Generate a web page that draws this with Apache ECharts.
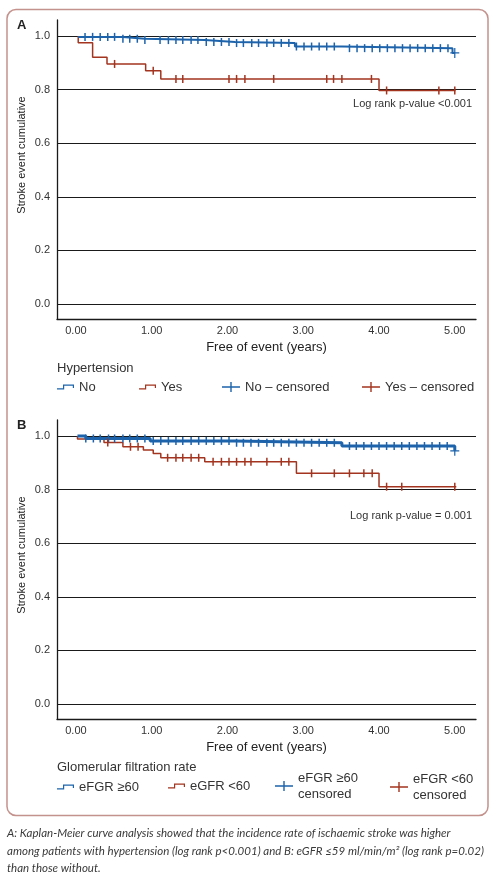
<!DOCTYPE html>
<html>
<head>
<meta charset="utf-8">
<script src="https://cdn.jsdelivr.net/npm/echarts@6/dist/echarts.min.js"></script>
<style>
html,body{margin:0;padding:0;background:#fff;}
#chart{width:497px;height:880px;}
</style>
</head>
<body>
<div id="chart"></div>
<script>
// ---- tick values ----
const xTicks = [0, 1, 2, 3, 4, 5];
const yTicks = [0, 0.2, 0.4, 0.6, 0.8, 1.0];

// ---- Panel A: Hypertension (time in years, cumulative survival) ----
const hypNoSteps = [[0.03,0.997],[0.62,0.990],[0.91,0.985],[1.70,0.978],[2.10,0.974],[2.89,0.961],[3.51,0.955],[4.97,0.937],[5.00,0.937]];
const hypYesSteps = [[0.03,1.0],[0.03,0.975],[0.22,0.921],[0.41,0.896],[0.92,0.871],[1.12,0.840],[4.00,0.797],[5.01,0.797]];
const hypNoCensored = [
  [0.12,0.997],[0.22,0.997],[0.32,0.997],[0.42,0.997],[0.51,0.997],
  [0.62,0.990],[0.71,0.990],[0.81,0.990],
  [0.91,0.985],[1.11,0.985],[1.22,0.985],[1.32,0.985],[1.41,0.985],[1.52,0.985],[1.61,0.985],
  [1.72,0.978],[1.82,0.978],[1.92,0.978],[2.02,0.978],
  [2.12,0.974],[2.21,0.974],[2.32,0.974],[2.41,0.974],[2.52,0.974],[2.61,0.974],[2.71,0.974],[2.81,0.974],
  [2.91,0.961],[3.01,0.961],[3.11,0.961],[3.21,0.961],[3.31,0.961],[3.41,0.961],
  [3.61,0.955],[3.71,0.955],[3.81,0.955],[3.91,0.955],[4.01,0.955],[4.11,0.955],[4.21,0.955],[4.31,0.955],
  [4.41,0.955],[4.51,0.955],[4.61,0.955],[4.71,0.955],[4.81,0.955],[4.91,0.955]
];
const hypNoLast = [5.00, 0.937];
const hypYesCensored = [
  [0.51,0.896],[1.02,0.871],
  [1.32,0.840],[1.41,0.840],[2.02,0.840],[2.12,0.840],[2.23,0.840],[2.61,0.840],[3.31,0.840],[3.40,0.840],[3.51,0.840],[3.90,0.840],
  [4.10,0.797],[4.79,0.797],[5.00,0.797]
];

// ---- Panel B: Glomerular filtration rate ----
const gfrHighSteps = [[0.02,1.0],[0.13,0.991],[0.98,0.982],[2.10,0.975],[3.51,0.963],[5.00,0.945]];
const gfrLowSteps = [[0.02,1.0],[0.02,0.989],[0.37,0.976],[0.62,0.960],[0.89,0.948],[1.02,0.935],[1.12,0.919],[1.70,0.904],[2.91,0.861],[4.00,0.811],[5.02,0.811]];
const gfrHighCensored = [
  [0.13,0.991],[0.23,0.991],[0.32,0.991],[0.43,0.991],[0.51,0.991],[0.62,0.991],[0.71,0.991],[0.81,0.991],[0.91,0.991],
  [1.02,0.982],[1.12,0.982],[1.22,0.982],[1.32,0.982],[1.41,0.982],[1.52,0.982],[1.62,0.982],[1.72,0.982],[1.82,0.982],[1.92,0.982],[2.02,0.982],
  [2.12,0.975],[2.21,0.975],[2.31,0.975],[2.41,0.975],[2.52,0.975],[2.61,0.975],[2.71,0.975],[2.81,0.975],[2.91,0.975],[3.01,0.975],[3.11,0.975],[3.21,0.975],[3.31,0.975],[3.41,0.975],
  [3.61,0.963],[3.70,0.963],[3.80,0.963],[3.90,0.963],[4.00,0.963],[4.10,0.963],[4.20,0.963],[4.30,0.963],[4.40,0.963],[4.50,0.963],[4.60,0.963],[4.70,0.963],[4.80,0.963],[4.90,0.963]
];
const gfrHighLast = [5.00, 0.945];
const gfrLowCensored = [
  [0.42,0.976],[0.72,0.960],[0.82,0.960],
  [1.21,0.919],[1.32,0.919],[1.41,0.919],[1.52,0.919],[1.62,0.919],
  [1.81,0.904],[1.92,0.904],[2.02,0.904],[2.12,0.904],[2.23,0.904],[2.31,0.904],[2.52,0.904],[2.71,0.904],[2.81,0.904],
  [3.11,0.861],[3.41,0.861],[3.61,0.861],[3.80,0.861],[3.91,0.861],
  [4.10,0.811],[4.30,0.811],[5.00,0.811]
];

const BLUE = '#1d63ab';
const RED = '#a3341f';
const FONT = 'Liberation Sans';
const stepIcon = 'path://M0,3.8H6V0H17V3.6H15.8V1.2H7.2V5H0Z';
const plusIcon = 'path://M0,4.3H18V5.7H0Z M8.3,0H9.7V10H8.3Z';
const plusSymbol = 'path://M0,4.4H9V5.6H0Z M3.9,0H5.1V10H3.9Z';

const chart = echarts.init(document.getElementById('chart'), null, {renderer:'canvas'});

function xAxisFor(i){
  return {
    type:'value', gridIndex:i, min:-0.25, max:5.28,
    axisLine:{show:true, onZero:false, lineStyle:{color:'#1a1a1a', width:1.3}},
    axisTick:{show:false, customValues:xTicks},
    axisLabel:{customValues:xTicks, formatter:v=>v.toFixed(2), color:'#333', fontSize:11, margin:6, fontFamily:FONT},
    splitLine:{show:false},
    name:'Free of event (years)', nameLocation:'middle', nameGap:22,
    nameTextStyle:{color:'#222', fontSize:13, fontFamily:FONT}
  };
}
function yAxisFor(i){
  return {
    type:'value', gridIndex:i, min:-0.056, max:1.06,
    axisLine:{show:true, onZero:false, lineStyle:{color:'#1a1a1a', width:1.3}},
    axisTick:{show:false, customValues:yTicks},
    axisLabel:{customValues:yTicks, formatter:v=>v.toFixed(1), color:'#333', fontSize:11, margin:7, fontFamily:FONT},
    splitLine:{show:true, lineStyle:{color:'#1a1a1a', width:1.2}}
  };
}
function stepSeries(name, data, color, width, i){
  return {type:'line', name, data, step:'end', xAxisIndex:i, yAxisIndex:i, showSymbol:false,
    color, lineStyle:{color, width}, z:3};
}
function censorSeries(name, data, last, color, i){
  const d = data.slice();
  if (last) d.push({value:last, symbol:plusSymbol, symbolSize:[9,10]});
  return {type:'scatter', name, data:d, xAxisIndex:i, yAxisIndex:i, symbol:'rect', symbolSize:[1.5,8],
    color, itemStyle:{color, opacity:1}, z:4};
}
function legendItem(name, icon, left, top, extra){
  const ts = Object.assign({color:'#333', fontSize:13, fontFamily:FONT, lineHeight:16}, extra||{});
  return {data:[{name, icon, itemStyle:{opacity:1}}], left, top, padding:0, itemWidth: icon===stepIcon?17:18, itemHeight: icon===stepIcon?5:10,
    itemGap:0, textStyle:ts, formatter:n=>n.replace(' censored','\ncensored'), selectedMode:false};
}

const option = {
  animation:false,
  backgroundColor:'#fff',
  textStyle:{fontFamily:FONT},
  grid:[
    {left:57, top:20, width:419, height:299},
    {left:57, top:420, width:419, height:299}
  ],
  xAxis:[xAxisFor(0), xAxisFor(1)],
  yAxis:[yAxisFor(0), yAxisFor(1)],
  legend:[
    legendItem('No', stepIcon, 57, 379),
    legendItem('Yes', stepIcon, 139, 379),
    {...legendItem('No – censored', plusIcon, 222, 379), formatter:n=>n},
    {...legendItem('Yes – censored', plusIcon, 362, 379), formatter:n=>n},
    legendItem('eFGR ≥60', stepIcon, 57, 779),
    legendItem('eGFR <60', stepIcon, 168, 778),
    legendItem('eFGR ≥60 censored', plusIcon, 275, 762, {padding:[16,0,0,0]}),
    legendItem('eFGR <60 censored', plusIcon, 390, 767, {padding:[8,0,0,0]})
  ],
  series:[
    stepSeries('Yes', hypYesSteps, RED, 1.5, 0),
    stepSeries('No', hypNoSteps, BLUE, 2, 0),
    censorSeries('No – censored', hypNoCensored, hypNoLast, BLUE, 0),
    censorSeries('Yes – censored', hypYesCensored, null, RED, 0),
    stepSeries('eGFR <60', gfrLowSteps, RED, 1.5, 1),
    stepSeries('eFGR ≥60', gfrHighSteps, BLUE, 3, 1),
    censorSeries('eFGR ≥60 censored', gfrHighCensored, gfrHighLast, BLUE, 1),
    censorSeries('eFGR <60 censored', gfrLowCensored, null, RED, 1)
  ],
  graphic:[
    {type:'rect', shape:{x:7, y:9.5, width:481, height:806, r:9}, style:{fill:'none', stroke:'#c4928c', lineWidth:1.5}, silent:true, z:-1},
    {type:'text', x:17, y:25, style:{text:'A', font:'bold 13px "Liberation Sans"', fill:'#222', align:'left', verticalAlign:'middle'}},
    {type:'text', x:17, y:425, style:{text:'B', font:'bold 13px "Liberation Sans"', fill:'#222', align:'left', verticalAlign:'middle'}},
    {type:'text', x:22, y:155, rotation:Math.PI/2, style:{text:'Stroke event cumulative', font:'11px "Liberation Sans"', fill:'#222', align:'center', verticalAlign:'middle'}},
    {type:'text', x:22, y:555, rotation:Math.PI/2, style:{text:'Stroke event cumulative', font:'11px "Liberation Sans"', fill:'#222', align:'center', verticalAlign:'middle'}},
    {type:'text', x:472, y:104, style:{text:'Log rank p-value <0.001', font:'11px "Liberation Sans"', fill:'#333', align:'right', verticalAlign:'middle'}},
    {type:'text', x:472, y:516, style:{text:'Log rank p-value = 0.001', font:'11px "Liberation Sans"', fill:'#333', align:'right', verticalAlign:'middle'}},
    {type:'text', x:57, y:368, style:{text:'Hypertension', font:'13px "Liberation Sans"', fill:'#333', align:'left', verticalAlign:'middle'}},
    {type:'text', x:57, y:767, style:{text:'Glomerular filtration rate', font:'13px "Liberation Sans"', fill:'#333', align:'left', verticalAlign:'middle'}},
    {type:'text', x:7, y:825, style:{
      text:'A: Kaplan-Meier curve analysis showed that the incidence rate of ischaemic stroke was higher\namong patients with hypertension (log rank p<0.001) and B: eGFR \u226459 ml/min/m\u00b2 (log rank p=0.02)\nthan those without.',
      font:'italic 11.5px Lato', fill:'#3a3a3a', lineHeight:17.5, align:'left', verticalAlign:'top'}}
  ]
};
chart.setOption(option);
</script>
</body>
</html>
